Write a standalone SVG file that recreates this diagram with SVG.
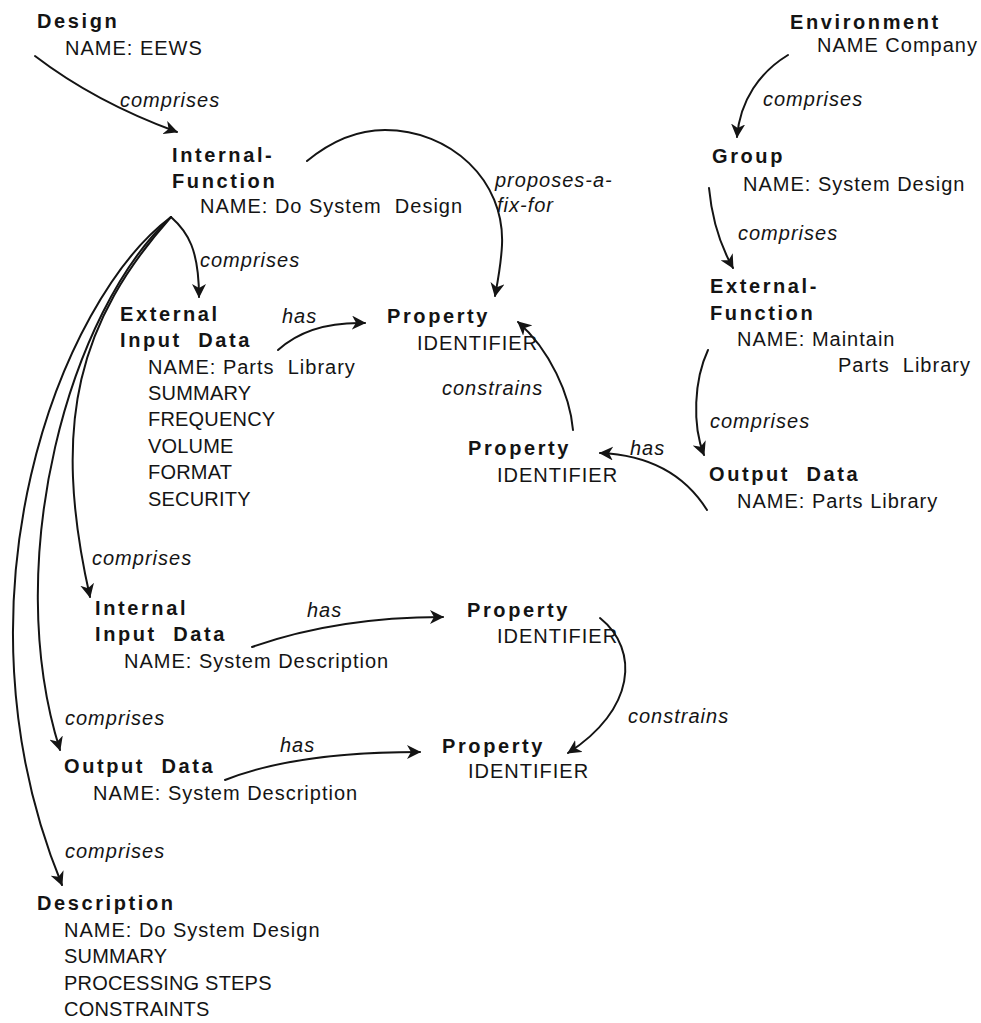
<svg xmlns="http://www.w3.org/2000/svg" width="981" height="1023" viewBox="0 0 981 1023">
<defs>
<style>
text{font-family:"Liberation Sans",Arial,sans-serif;font-size:20px;fill:#141414;white-space:pre}
.h{font-weight:bold;letter-spacing:2.6px}
.t{letter-spacing:1px}
.c{letter-spacing:0.2px}
.l{font-style:italic;letter-spacing:1px}
.e{fill:none;stroke:#141414;stroke-width:2;stroke-linecap:round;marker-end:url(#ah)}
</style>
<marker id="ah" viewBox="0 0 14 14" refX="13" refY="7" markerWidth="14" markerHeight="14" markerUnits="userSpaceOnUse" orient="auto"><path d="M0,0 L14,7 L0,14 L4,7 Z" fill="#141414"/></marker>
</defs>
<rect width="981" height="1023" fill="#fff"/>
<g id="connectors">
<path class="e" d="M35,56 Q95,102 177,132"/>
<path class="e" d="M307,161 C335,138 360,130 385,130 C450,130 505,180 502,245 C501,265 498,280 495,296"/>
<path class="e" d="M171,217 C188,232 199,250 199,297"/>
<path class="e" d="M171,217 C80,320 50,420 90,597"/>
<path class="e" d="M171,217 C70,310 0,560 60,750"/>
<path class="e" d="M171,217 C60,300 -55,600 62,885"/>
<path class="e" d="M278,350 C300,330 330,322 365,323"/>
<path class="e" d="M573,430 C570,395 550,350 518,322"/>
<path class="e" d="M788,55 C760,72 740,100 737,137"/>
<path class="e" d="M709,188 C712,220 720,245 733,268"/>
<path class="e" d="M708,350 C694,380 692,425 704,455"/>
<path class="e" d="M707,510 C685,475 650,455 600,453"/>
<path class="e" d="M252,647 C300,630 360,617 443,617"/>
<path class="e" d="M225,780 C270,762 330,752 420,752"/>
<path class="e" d="M600,618 C640,650 635,710 568,753"/>
<g id="edge-labels">
<text class="l" x="120" y="107">comprises</text>
<text class="l" x="495" y="187">proposes-a-</text>
<text class="l" x="497" y="212">fix-for</text>
<text class="l" x="200" y="267">comprises</text>
<text class="l" x="282" y="323">has</text>
<text class="l" x="763" y="106">comprises</text>
<text class="l" x="738" y="240">comprises</text>
<text class="l" x="710" y="428">comprises</text>
<text class="l" x="442" y="395">constrains</text>
<text class="l" x="630" y="455">has</text>
<text class="l" x="92" y="565">comprises</text>
<text class="l" x="307" y="617">has</text>
<text class="l" x="628" y="723">constrains</text>
<text class="l" x="65" y="725">comprises</text>
<text class="l" x="280" y="752">has</text>
<text class="l" x="65" y="858">comprises</text>
</g>
</g>
<g id="design"><text class="h" x="37" y="28">Design</text><text class="t" x="65" y="55">NAME: EEWS</text></g>
<g id="internal-function"><text class="h" x="172" y="162">Internal-</text><text class="h" x="172" y="188">Function</text><text class="t" x="200" y="213">NAME: Do System  Design</text></g>
<g id="external-input-data"><text class="h" x="120" y="321">External</text><text class="h" x="120" y="347">Input  Data</text><text class="t" x="148" y="374">NAME: Parts  Library</text><text class="c" x="148" y="400">SUMMARY</text><text class="c" x="148" y="426">FREQUENCY</text><text class="c" x="148" y="453">VOLUME</text><text class="c" x="148" y="479">FORMAT</text><text class="c" x="148" y="506">SECURITY</text></g>
<g id="property-1"><text class="h" x="387" y="323">Property</text><text class="t" x="417" y="350">IDENTIFIER</text></g>
<g id="environment"><text class="h" x="790" y="29">Environment</text><text class="t" x="817" y="52">NAME Company</text></g>
<g id="group"><text class="h" x="712" y="163">Group</text><text class="t" x="743" y="191">NAME: System Design</text></g>
<g id="external-function"><text class="h" x="710" y="293">External-</text><text class="h" x="710" y="320">Function</text><text class="t" x="737" y="346">NAME: Maintain</text><text class="t" x="838" y="372">Parts  Library</text></g>
<g id="output-data-right"><text class="h" x="709" y="481">Output  Data</text><text class="t" x="737" y="508">NAME: Parts Library</text></g>
<g id="property-2"><text class="h" x="468" y="455">Property</text><text class="t" x="497" y="482">IDENTIFIER</text></g>
<g id="internal-input-data"><text class="h" x="95" y="615">Internal</text><text class="h" x="95" y="641">Input  Data</text><text class="t" x="124" y="668">NAME: System Description</text></g>
<g id="property-3"><text class="h" x="467" y="617">Property</text><text class="t" x="497" y="643">IDENTIFIER</text></g>
<g id="output-data-left"><text class="h" x="64" y="773">Output  Data</text><text class="t" x="93" y="800">NAME: System Description</text></g>
<g id="property-4"><text class="h" x="442" y="753">Property</text><text class="t" x="468" y="778">IDENTIFIER</text></g>
<g id="description"><text class="h" x="37" y="910">Description</text><text class="t" x="64" y="937">NAME: Do System Design</text><text class="c" x="64" y="963">SUMMARY</text><text class="c" x="64" y="990">PROCESSING STEPS</text><text class="c" x="64" y="1016">CONSTRAINTS</text></g>
</svg>
